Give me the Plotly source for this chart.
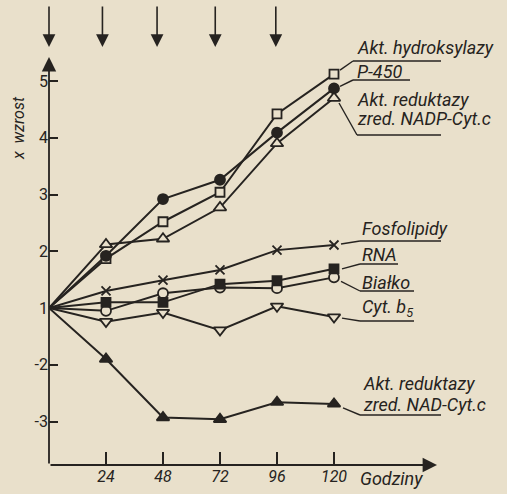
import plotly.graph_objects as go

# ---------------- data (values in axis units: 1..5 = x-fold increase,
# 0 -> "-2", -1 -> "-3" fold decrease) ----------------
hours = [0, 24, 48, 72, 96, 120]
hydroksylaza = [1, 1.87, 2.52, 3.04, 4.42, 5.12]       # open square
p450 = [1, 1.92, 2.92, 3.26, 4.09, 4.87]                # filled circle
nadp_red = [1, 2.12, 2.22, 2.77, 3.90, 4.70]            # open triangle up
fosfolipidy = [1, 1.30, 1.49, 1.67, 2.02, 2.11]         # x
rna = [1, 1.10, 1.10, 1.42, 1.48, 1.69]                 # filled square
bialko = [1, 0.95, 1.26, 1.36, 1.35, 1.54]              # open circle
cyt_b5 = [1, 0.76, 0.92, 0.61, 1.03, 0.84]              # open triangle down
nad_red = [1, 0.10, -0.93, -0.96, -0.66, -0.69]         # filled triangle up

injections = [0, 22.5, 45.5, 70, 95.5]

x_ticks = [24, 48, 72, 96, 120]
y_tickvals = [5, 4, 3, 2, 1, 0, -1]
y_ticktext = ["5", "4", "3", "2", "1", "-2", "-3"]

# ---------------- layout helpers (pixel -> axis units) ----------------
W, H = 507, 494
L, R, T, B = 49, 66, 0, 29
XS = 2.375      # px per hour
YS = 56.75      # px per unit
Y1 = 308        # pixel row of value 1
PW, PH = W - L - R, H - T - B


def dx(px):
    return (px - L) / XS


def dy(py):
    return 1 + (Y1 - py) / YS


def px_paper(px):
    return (px - L) / PW


def py_paper(py):
    return (H - B - py) / PH


INK = "#262320"
BG = "#e9e0cb"
FONT = "Roboto, DejaVu Sans"

fig = go.Figure()

series = [
    (hydroksylaza, "square", BG),
    (nadp_red, "triangle-up", BG),
    (p450, "circle", INK),
    (fosfolipidy, "x-thin", INK),
    (bialko, "circle", BG),
    (rna, "square", INK),
    (cyt_b5, "triangle-down", BG),
    (nad_red, "triangle-up", INK),
]
sizes = {"square": 9, "circle": 10, "triangle-up": 11, "triangle-down": 11, "x-thin": 9}

# lines first, markers on top
for vals, sym, fill in series:
    fig.add_trace(go.Scatter(
        x=hours, y=vals, mode="lines", showlegend=False,
        line=dict(color=INK, width=2), hoverinfo="skip"))
for vals, sym, fill in series:
    fig.add_trace(go.Scatter(
        x=hours[1:], y=vals[1:], mode="markers", showlegend=False,
        marker=dict(symbol=sym, size=sizes[sym], color=fill,
                    line=dict(color=INK, width=1.8)),
        hoverinfo="skip"))

# ---------------- labels with underlines and leaders ----------------
labels = [
    # text, (left px, centre y px), underline (y, x0, x1), series, leader offset px
    ("Akt. hydroksylazy", (355, 47), (61, 353, 500), hydroksylaza, (6, -4)),
    ("P-450", (355, 71), (80, 353, 410), p450, (6, -2)),
    ("Akt. reduktazy", (355, 99), None, None, None),
    ("zred. NADP-Cyt.c", (355, 118), (135, 357, 500), nadp_red, (5, 5)),
    ("Fosfolipidy", (360, 228), (241, 360, 457), fosfolipidy, (7, -1)),
    ("RNA", (360, 254), (264, 360, 398), rna, (8, 0)),
    ("Białko", (360, 282), (291, 360, 414), bialko, (7, 4)),
    ("Cyt. b<sub>5</sub>", (360, 308), (321, 360, 414), cyt_b5, (8, 1)),
    ("Akt. reduktazy", (361, 383), None, None, None),
    ("zred. NAD-Cyt.c", (361, 404), (415, 360, 507), nad_red, (9, 4)),
]

shapes = []
annotations = []
for text, (lx, ly), ul, vals, off in labels:
    annotations.append(dict(
        x=px_paper(lx), y=py_paper(ly), xref="paper", yref="paper",
        text="<i>" + text + "</i>",
        showarrow=False, xanchor="left", yanchor="middle",
        font=dict(family=FONT, size=18, color=INK)))
    if ul is not None:
        uy, ux0, ux1 = ul
        shapes.append(dict(type="line", xref="x", yref="y",
                           x0=dx(ux0), x1=dx(ux1), y0=dy(uy), y1=dy(uy),
                           line=dict(color=INK, width=1.6)))
        # leader from last data point to start of underline
        px_last = L + hours[-1] * XS + off[0]
        py_last = Y1 - (vals[-1] - 1) * YS + off[1]
        shapes.append(dict(type="line", xref="x", yref="y",
                           x0=dx(px_last), y0=dy(py_last), x1=dx(ux0), y1=dy(uy),
                           line=dict(color=INK, width=1.4)))

# axis arrows
x_bottom = dy(465)
annotations.append(dict(x=0, y=dy(57), ax=0, ay=x_bottom, xref="x", yref="y",
                        axref="x", ayref="y", showarrow=True, arrowhead=2,
                        arrowsize=1.6, arrowwidth=1.8, arrowcolor=INK, text=""))
annotations.append(dict(x=dx(437), y=x_bottom, ax=0, ay=x_bottom, xref="x", yref="y",
                        axref="x", ayref="y", showarrow=True, arrowhead=2,
                        arrowsize=1.6, arrowwidth=1.8, arrowcolor=INK, text=""))
# injection arrows
for t in injections:
    annotations.append(dict(x=t, y=dy(47), ax=t, ay=dy(5), xref="x", yref="y",
                            axref="x", ayref="y", showarrow=True, arrowhead=2,
                            arrowsize=1.6, arrowwidth=1.6, arrowcolor=INK, text=""))

annotations.append(dict(x=px_paper(358), y=py_paper(479), xref="paper", yref="paper",
                        text="<i>Godziny</i>", showarrow=False, xanchor="left",
                        yanchor="middle", font=dict(family=FONT, size=18, color=INK)))
annotations.append(dict(x=px_paper(18), y=py_paper(128), xref="paper", yref="paper",
                        text="<i>x  wzrost</i>", textangle=-90, showarrow=False,
                        xanchor="center", yanchor="middle",
                        font=dict(family=FONT, size=16, color=INK)))

fig.update_layout(
    width=W, height=H,
    margin=dict(l=L, r=R, t=T, b=B),
    paper_bgcolor=BG, plot_bgcolor=BG,
    shapes=shapes, annotations=annotations,
    xaxis=dict(range=[0, dx(W - R)], tickvals=x_ticks,
               ticktext=["<i>%d</i>" % v for v in x_ticks],
               ticks="inside", ticklen=13, tickwidth=1.6, tickcolor=INK,
               showgrid=False, zeroline=False, showline=False,
               tickfont=dict(family=FONT, size=16, color=INK)),
    yaxis=dict(range=[dy(H - B), dy(0)], tickvals=y_tickvals, ticktext=y_ticktext,
               ticks="inside", ticklen=9, tickwidth=1.6, tickcolor=INK,
               showgrid=False, zeroline=False, showline=False,
               tickfont=dict(family=FONT, size=16, color=INK)),
)

fig.write_html("out.html")
